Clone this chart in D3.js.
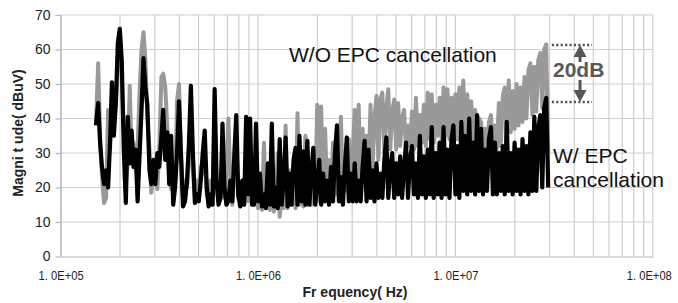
<!DOCTYPE html>
<html>
<head>
<meta charset="utf-8">
<script src="https://cdn.jsdelivr.net/npm/d3@7"></script>
<style>
  body { margin: 0; background: #fff; }
  svg { display: block; font-family: "Liberation Sans", Arial, sans-serif; }
</style>
</head>
<body>
<div id="chart"></div>
<script>
// sweep frequencies, kHz
const freqKHz = [
  151, 155, 158.5, 162, 166, 170, 174, 178, 182, 186, 190.5, 195, 199.5, 204, 209, 214, 219, 224, 229, 234,
  240, 245.5, 251, 257, 263, 269, 275, 282, 288, 295, 302, 309, 316, 324, 331, 339, 347, 355, 363, 372,
  380, 389, 398, 407, 417, 427, 437, 447, 457, 468, 479, 490, 501, 513, 525, 537, 550, 562, 575, 589,
  603, 617, 631, 646, 661, 676, 692, 708, 724, 741, 759, 776, 794, 813, 832, 851, 871, 891, 912, 933,
  955, 977,
  1000, 1023, 1047, 1072, 1096, 1122, 1148, 1175, 1202, 1230, 1259, 1288, 1318, 1349, 1380, 1413, 1445, 1479, 1514, 1549,
  1585, 1622, 1660, 1698, 1738, 1778, 1820, 1862, 1905, 1950, 1995, 2042, 2089, 2138, 2188, 2239, 2291, 2344, 2399, 2455,
  2512, 2570, 2630, 2692, 2754, 2818, 2884, 2951, 3020, 3090, 3162, 3236, 3311, 3388, 3467, 3548, 3631, 3715, 3802, 3890,
  3981, 4074, 4169, 4266, 4365, 4467, 4571, 4677, 4786, 4898, 5012, 5129, 5248, 5370, 5495, 5623, 5754, 5888, 6026, 6166,
  6310, 6457, 6607, 6761, 6918, 7079, 7244, 7413, 7586, 7762, 7943, 8128, 8318, 8511, 8710, 8913, 9120, 9333, 9550, 9772,
  10000, 10230, 10470, 10720, 10960, 11220, 11480, 11750, 12020, 12300, 12590, 12880, 13180, 13490, 13800, 14130, 14450, 14790, 15140, 15490,
  15850, 16220, 16600, 16980, 17380, 17780, 18200, 18620, 19050, 19500, 19950, 20420, 20890, 21380, 21880, 22390, 22910, 23440, 23990, 24550,
  25120, 25700, 26300, 26920, 27540, 28180, 28840, 29510
];

// W/O EPC cancellation, dBuV
const withoutEPC = [
  38.5, 56, 35, 23, 15.5, 17, 42.5, 31, 46, 42.5, 43.5, 57, 63.5, 52, 37.5, 20, 28, 49.5, 28, 33,
  25, 31, 47, 60, 65, 57, 40.5, 31, 18.5, 23, 28, 19.5, 31, 52, 53, 49, 37.5, 25,
  19.5, 24, 20, 45, 50, 30, 18, 22, 20, 28, 40, 25, 17, 22, 20, 26, 24, 30, 18, 16,
  22, 18, 38, 20, 16, 18, 30, 17, 25, 40, 22, 15, 24, 34, 17, 16, 20, 15, 32, 16,
  30, 15, 17, 30,
  14, 20, 13.5, 33, 14, 18, 13.5, 22, 13, 16,
  30, 11.5, 20, 14, 38, 14, 25, 15, 20, 14,
  41.5, 15, 22, 14.5, 35, 15, 24, 15, 30, 16,
  44, 16, 43.5, 17, 37, 18, 28, 17, 33, 18,
  30, 18, 40.5, 18, 26, 19, 34, 19, 30, 42.5,
  20, 44, 21, 37, 22, 35, 24, 44, 25, 40,
  46.5, 28, 45.5, 47.5, 30, 43, 48.5, 31, 42, 45.5,
  31, 44.5, 32, 40, 42.5, 31, 38, 32, 42, 31,
  46, 32, 41, 33, 44, 32, 47.5, 34, 47, 33,
  44, 35, 46, 34, 49, 35, 48.5, 34, 46, 35,
  47, 34, 49, 36, 51, 35, 47, 34, 45, 33,
  42.5, 32, 40, 39, 31, 37, 30, 39, 41, 30,
  38, 31, 44.5, 32, 46.5, 49, 34, 51, 36, 48,
  37, 50, 38, 49, 39, 52, 40, 54, 56, 41,
  55, 42, 57, 59, 43, 60, 61.5, 30
];

// W/ EPC cancellation, dBuV
const withEPC = [
  38, 44.5, 33, 26, 21, 25, 20, 33, 50.5, 35, 44.5, 62, 66, 57, 31, 15.5, 40.5, 27, 36.5, 26,
  31, 16, 29, 42.5, 57.5, 49, 44, 25, 21, 28, 21, 30, 26, 34.5, 42.5, 28, 36, 21,
  35, 15, 20, 30, 45, 30, 14.5, 16, 22, 33, 49.5, 30, 15.5, 18, 16, 22, 30, 36.5, 20, 14.5,
  18, 15, 48.5, 22, 15, 17, 38.5, 20, 15, 16, 22, 16, 30, 41, 18, 14.5, 22, 15, 40.5, 18,
  40, 15, 15, 38.5,
  16, 24, 14.5, 18, 14, 27, 15, 38.5, 14.5, 20,
  14, 34, 15, 22, 34.5, 14.5, 24, 15, 28, 31.5,
  15, 35, 16, 30.5, 15, 33.5, 15, 24, 31.5, 15,
  21, 28, 15, 24, 16, 22, 15, 26, 16, 30,
  38, 16, 23, 15, 26, 34.5, 16, 24, 16, 27,
  16, 22, 16, 26, 33.5, 16, 31, 17, 25, 16,
  27, 17, 24, 17, 28, 34.5, 17, 26, 30, 17,
  27, 18, 29, 17, 26, 33, 17, 28, 32, 18,
  27, 17, 35, 18, 29, 17, 31, 18, 37.5, 17,
  30, 18, 33, 17, 37.5, 18, 31, 17, 34, 38,
  18, 32, 17, 39, 19, 35, 18, 40, 19, 33,
  18, 41, 19, 37, 18, 31, 19, 34, 37.5, 18,
  33, 18, 30, 19, 32, 18, 39, 19, 30, 18,
  33, 19, 31, 18, 34, 19, 32, 18, 36, 19,
  40.5, 19, 37, 41, 20, 43, 46, 20
];

const yTicks = [0, 10, 20, 30, 40, 50, 60, 70];
const xTicks = [1e5, 1e6, 1e7, 1e8];
const xTickLabels = ["1. 0E+05", "1. 0E+06", "1. 0E+07", "1. 0E+08"];

// 20 dB marker: levels and frequency span of the dotted lines
const levelHigh = 61.3, levelLow = 44.8;
const markerFreqs = [3.08e7, 4.92e7];
const arrowFreq = 4.28e7;

const width = 678, height = 303;
const plotLeft = 60.6, plotRight = 652.8, plotTop = 15, plotBottom = 256.5;

const x = d3.scaleLog().domain([1e5, 1e8]).range([plotLeft, plotRight]);
const y = d3.scaleLinear().domain([0, 70]).range([plotBottom, plotTop]);

const svg = d3.select("#chart").append("svg")
    .attr("width", width)
    .attr("height", height);

// grid
svg.append("g")
    .selectAll("line")
    .data(x.ticks())
    .join("line")
    .attr("x1", d => x(d)).attr("x2", d => x(d))
    .attr("y1", plotTop).attr("y2", plotBottom)
    .attr("stroke", "#cfcfcf")
    .attr("stroke-width", 1.2);

svg.append("g")
    .selectAll("line")
    .data(yTicks.slice(1))
    .join("line")
    .attr("x1", plotLeft).attr("x2", plotRight)
    .attr("y1", d => y(d)).attr("y2", d => y(d))
    .attr("stroke", "#cfcfcf")
    .attr("stroke-width", 1.2);

// axes
const yAxis = svg.append("g")
    .attr("transform", `translate(${plotLeft},0)`)
    .call(d3.axisLeft(y).tickValues(yTicks).tickSize(5).tickPadding(5).tickSizeOuter(0));
yAxis.selectAll("path, line").attr("stroke", "#b8b8b8").attr("stroke-width", 1.2);
yAxis.selectAll("text").attr("font-size", 14).attr("fill", "#222")
    .attr("font-family", "Liberation Sans, Arial, sans-serif");

const xAxis = svg.append("g")
    .attr("transform", `translate(0,${plotBottom})`)
    .call(d3.axisBottom(x).tickValues(xTicks).tickFormat((d, i) => xTickLabels[i])
        .tickSize(0).tickPadding(14).tickSizeOuter(0));
xAxis.select(".domain").attr("stroke", "#b8b8b8").attr("stroke-width", 1.2);
xAxis.selectAll("text").attr("font-size", 13).attr("fill", "#222")
    .attr("font-family", "Liberation Sans, Arial, sans-serif")
    .attr("textLength", 45)
    .attr("lengthAdjust", "spacingAndGlyphs")
    .attr("dx", (d, i) => i === xTicks.length - 1 ? -4 : 0);

// axis titles
svg.append("text")
    .attr("transform", "translate(23,133) rotate(-90)")
    .attr("text-anchor", "middle")
    .attr("font-size", 14)
    .attr("font-weight", "bold")
    .attr("fill", "#222")
    .text("Magni t ude( dBuV)");

svg.append("text")
    .attr("x", 355)
    .attr("y", 297)
    .attr("text-anchor", "middle")
    .attr("font-size", 14)
    .attr("font-weight", "bold")
    .attr("fill", "#222")
    .text("Fr equency( Hz)");

// spectra
const line = d3.line()
    .x((d, i) => x(freqKHz[i] * 1e3))
    .y(d => y(d));

svg.append("path")
    .datum(withoutEPC)
    .attr("d", line)
    .attr("fill", "none")
    .attr("stroke", "#999999")
    .attr("stroke-width", 4)
    .attr("stroke-linejoin", "round");

svg.append("path")
    .datum(withEPC)
    .attr("d", line)
    .attr("fill", "none")
    .attr("stroke", "#000")
    .attr("stroke-width", 4.2)
    .attr("stroke-linejoin", "round");

// labels
svg.append("text")
    .attr("x", 289).attr("y", 62)
    .attr("font-size", 21)
    .attr("fill", "#111")
    .text("W/O EPC cancellation");

svg.append("text")
    .attr("x", 553).attr("y", 163)
    .attr("font-size", 21)
    .attr("fill", "#111")
    .text("W/ EPC");

svg.append("text")
    .attr("x", 553).attr("y", 187)
    .attr("font-size", 21)
    .attr("fill", "#111")
    .text("cancellation");

// 20 dB marker
const mark = svg.append("g").attr("fill", "#555").attr("stroke", "#555");
[levelHigh, levelLow].forEach(v => {
    mark.append("line")
        .attr("x1", x(markerFreqs[0])).attr("x2", x(markerFreqs[1]))
        .attr("y1", y(v)).attr("y2", y(v))
        .attr("stroke-width", 2.5)
        .attr("stroke-dasharray", "2.2,2.2");
});
const ax = x(arrowFreq);
const yHi = y(levelHigh), yLo = y(levelLow);
mark.append("path")
    .attr("stroke", "none")
    .attr("d", `M${ax},${yHi} L${ax - 6.5},${yHi + 12} L${ax + 6.5},${yHi + 12} Z`);
mark.append("line")
    .attr("x1", ax).attr("x2", ax)
    .attr("y1", yHi + 11).attr("y2", yHi + 17)
    .attr("stroke-width", 3);
mark.append("path")
    .attr("stroke", "none")
    .attr("d", `M${ax},${yLo} L${ax - 6.5},${yLo - 12} L${ax + 6.5},${yLo - 12} Z`);
mark.append("line")
    .attr("x1", ax).attr("x2", ax)
    .attr("y1", yLo - 11).attr("y2", yLo - 22)
    .attr("stroke-width", 3);

svg.append("text")
    .attr("x", 553).attr("y", 77)
    .attr("font-size", 21)
    .attr("font-weight", "bold")
    .attr("fill", "#595959")
    .text("20dB");
</script>
</body>
</html>
